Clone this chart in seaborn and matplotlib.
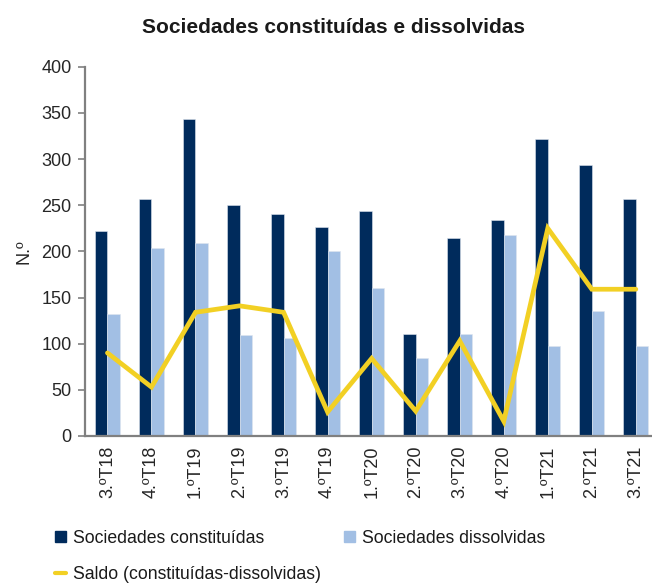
import numpy as np
import pandas as pd
import matplotlib
matplotlib.use("Agg")
import matplotlib.pyplot as plt
import seaborn as sns
from matplotlib.patches import Patch
from matplotlib.lines import Line2D
from matplotlib.ticker import MultipleLocator

# --- data ---
quarters = ["3.ºT18", "4.ºT18", "1.ºT19", "2.ºT19", "3.ºT19", "4.ºT19", "1.ºT20",
            "2.ºT20", "3.ºT20", "4.ºT20", "1.ºT21", "2.ºT21", "3.ºT21"]
constituidas = [222, 257, 343, 250, 240, 226, 244, 111, 214, 234, 322, 294, 257]
dissolvidas = [132, 204, 209, 109, 106, 200, 160, 84, 111, 218, 97, 135, 98]
saldo = [90, 53, 134, 141, 134, 26, 84, 27, 103, 16, 225, 159, 159]

lbl_const = "Sociedades constituídas"
lbl_diss = "Sociedades dissolvidas"
lbl_saldo = "Saldo (constituídas-dissolvidas)"

col_dark = "#002B5C"
col_light = "#A2BFE4"
col_yellow = "#F2D024"

sns.set_style("white")
plt.rcParams["font.family"] = ["Liberation Sans", "DejaVu Sans"]
plt.rcParams["text.color"] = "#1a1a1a"

df = pd.DataFrame({
    "quarter": quarters * 2,
    "value": constituidas + dissolvidas,
    "serie": [lbl_const] * len(quarters) + [lbl_diss] * len(quarters),
})

fig = plt.figure(figsize=(6.52, 5.86), dpi=100)
ax = fig.add_axes([0.131, 0.256, 0.878, 0.630])

sns.barplot(data=df, x="quarter", y="value", hue="serie", order=quarters,
            hue_order=[lbl_const, lbl_diss], palette=[col_dark, col_light],
            width=0.57, gap=0, saturation=1, edgecolor="#dfe6ef", linewidth=0.4,
            legend=False, ax=ax)
sns.lineplot(x=np.arange(len(quarters)), y=saldo, color=col_yellow, linewidth=3.4,
             solid_joinstyle="miter", ax=ax)

ax.set_xlim(-0.5, len(quarters) - 0.5)
ax.set_ylim(0, 400)
ax.yaxis.set_major_locator(MultipleLocator(50))
ax.set_xlabel("")
ax.set_ylabel("N.º", fontsize=13, labelpad=6)

ax.set_xticks(np.arange(len(quarters)))
ax.set_xticklabels(quarters, rotation=90, fontsize=13)
ax.set_xticks(np.arange(len(quarters) + 1) - 0.5, minor=True)
ax.tick_params(axis="x", which="major", length=0, pad=7)
ax.tick_params(axis="x", which="minor", length=5, width=1.2, color="#808080", direction="out")
ax.tick_params(axis="y", labelsize=13, length=5, width=1.2, color="#808080", direction="out",
               left=True, pad=5)

sns.despine(ax=ax)
for s in ["left", "bottom"]:
    ax.spines[s].set_color("#808080")
    ax.spines[s].set_linewidth(1.6)

fig.text(0.511, 0.953, "Sociedades constituídas e dissolvidas", ha="center", va="center",
         fontsize=15, fontweight="bold")

# order so rows read: constituídas | dissolvidas, then saldo
handles = [
    Patch(facecolor=col_dark, edgecolor=col_dark, label=lbl_const),
    Line2D([0], [0], color=col_yellow, linewidth=3, label=lbl_saldo),
    Patch(facecolor=col_light, edgecolor=col_light, label=lbl_diss),
]
fig.legend(handles=handles, ncol=2, loc="upper left", bbox_to_anchor=(0.085, 0.096),
           frameon=False, fontsize=12.7, handlelength=0.6, handleheight=0.6,
           handletextpad=0.4, columnspacing=1.3, labelspacing=1.1, borderaxespad=0,
           borderpad=0)

fig.savefig("out.png", dpi=100)
